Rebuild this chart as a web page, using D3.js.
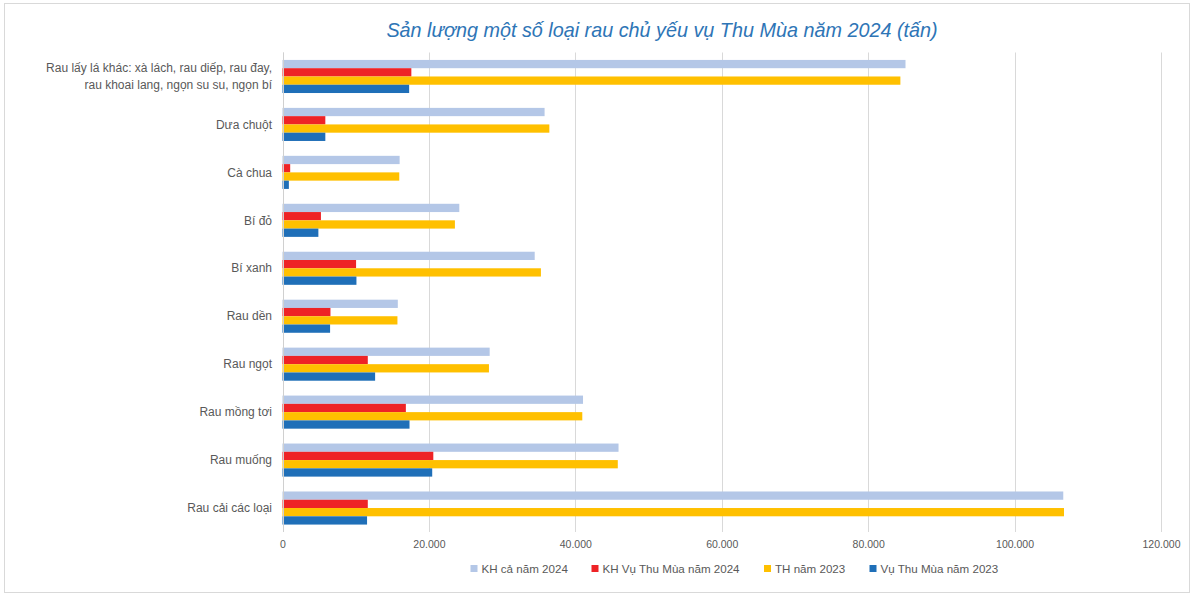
<!DOCTYPE html>
<html>
<head>
<meta charset="utf-8">
<script src="https://cdn.jsdelivr.net/npm/d3@7/dist/d3.min.js"></script>
<style>
  html, body { margin: 0; padding: 0; background: #fff; }
  svg { display: block; }
</style>
</head>
<body>
<svg id="chart" width="1194" height="595"></svg>
<script>
// Vegetable output by crop (tonnes), top row first
const categories = [
  ["Rau lấy lá khác: xà lách, rau diếp, rau đay,", "rau khoai lang, ngọn su su, ngọn bí"],
  ["Dưa chuột"],
  ["Cà chua"],
  ["Bí đỏ"],
  ["Bí xanh"],
  ["Rau dền"],
  ["Rau ngọt"],
  ["Rau mồng tơi"],
  ["Rau muống"],
  ["Rau cải các loại"]
];
const seriesNames = ["KH cả năm 2024", "KH Vụ Thu Mùa năm 2024", "TH năm 2023", "Vụ Thu Mùa năm 2023"];
const khCaNam2024   = [85100, 35800, 16000, 24150, 34450, 15750, 28300, 41050, 45900, 106650];
const khThuMua2024  = [17600,  5850,  1050,  5250, 10050,  6550, 11650, 16850, 20600,  11650];
const thNam2023     = [84400, 36450, 15950, 23550, 35300, 15700, 28200, 40950, 45800, 106750];
const thuMua2023    = [17300,  5850,   870,  4900, 10100,  6500, 12650, 17350, 20450,  11550];
const tickValues = [0, 20000, 40000, 60000, 80000, 100000, 120000];

const seriesValues = [khCaNam2024, khThuMua2024, thNam2023, thuMua2023];
const colors = ["#b4c7e7", "#ee2326", "#ffc000", "#1f6fb8"];

const svg = d3.select("#chart");
const W = 1194, H = 595;
const plot = { left: 282.5, right: 1161, top: 52.5, bottom: 532 };

// outer frame
svg.append("rect")
  .attr("x", 4.5).attr("y", 3.5)
  .attr("width", W - 9).attr("height", H - 6)
  .attr("fill", "#fff").attr("stroke", "#d9d9d9").attr("stroke-width", 1);

// title
svg.append("text")
  .attr("x", 662).attr("y", 36.5)
  .attr("text-anchor", "middle")
  .attr("font-family", "'Liberation Sans', Arial, sans-serif")
  .attr("font-style", "italic")
  .attr("font-size", 19.8)
  .attr("fill", "#2e75b6")
  .text("Sản lượng một số loại rau chủ yếu vụ Thu Mùa năm 2024 (tấn)");

const x = d3.scaleLinear().domain([0, 120000]).range([plot.left, plot.right]);
const y = d3.scaleBand()
  .domain(d3.range(categories.length))
  .range([plot.top, plot.bottom])
  .paddingInner(0.31).paddingOuter(0.155);
const ySub = d3.scaleBand().domain(d3.range(seriesNames.length)).range([0, y.bandwidth()]);

const locale = d3.formatLocale({ decimal: ",", thousands: ".", grouping: [3], currency: ["", ""] });
const fmt = locale.format(",d");

// vertical gridlines
svg.append("g").selectAll("line")
  .data(tickValues)
  .join("line")
  .attr("x1", d => Math.round(x(d)) + 0.5).attr("x2", d => Math.round(x(d)) + 0.5)
  .attr("y1", plot.top).attr("y2", plot.bottom)
  .attr("stroke", "#d9d9d9").attr("stroke-width", 1);

// x axis labels
const xAxis = d3.axisBottom(x).tickValues(tickValues).tickFormat(fmt).tickSize(0).tickPadding(0);
const gx = svg.append("g").attr("transform", `translate(0,${plot.bottom + 9})`).call(xAxis);
gx.select(".domain").remove();
gx.selectAll("text")
  .attr("font-family", "'Liberation Sans', Arial, sans-serif")
  .attr("font-size", 10.5)
  .attr("fill", "#595959");

// bars
const groups = svg.append("g").selectAll("g")
  .data(categories.map((c, i) => i))
  .join("g")
  .attr("transform", i => `translate(0,${y(i)})`);

groups.selectAll("rect")
  .data(i => seriesValues.map((vals, s) => ({ s, v: vals[i] })))
  .join("rect")
  .attr("x", x(0))
  .attr("y", d => ySub(d.s))
  .attr("width", d => x(d.v) - x(0))
  .attr("height", ySub.bandwidth())
  .attr("fill", d => colors[d.s]);

// category axis line
svg.append("line")
  .attr("x1", Math.round(x(0)) + 0.5).attr("x2", Math.round(x(0)) + 0.5)
  .attr("y1", plot.top).attr("y2", plot.bottom)
  .attr("stroke", "#d0d0d0");

// category labels
const labels = svg.append("g").selectAll("text")
  .data(categories)
  .join("text")
  .attr("text-anchor", "end")
  .attr("font-family", "'Liberation Sans', Arial, sans-serif")
  .attr("font-size", 12)
  .attr("fill", "#595959")
  .attr("transform", (d, i) => `translate(272,${y(i) + y.bandwidth() / 2})`);

labels.selectAll("tspan")
  .data(d => d.map((line, k) => ({ line, k, n: d.length })))
  .join("tspan")
  .attr("x", 0)
  .attr("y", d => (d.k - (d.n - 1) / 2) * 17)
  .attr("dy", "0.35em")
  .text(d => d.line);

// legend
const legendItems = [
  { name: seriesNames[0], x: 470.5 },
  { name: seriesNames[1], x: 591.5 },
  { name: seriesNames[2], x: 764 },
  { name: seriesNames[3], x: 869.5 }
];
const lg = svg.append("g").selectAll("g")
  .data(legendItems)
  .join("g")
  .attr("transform", d => `translate(${d.x},568.5)`);
lg.append("rect")
  .attr("x", 0).attr("y", -3.5).attr("width", 7).attr("height", 7)
  .attr("fill", (d, i) => colors[i]);
lg.append("text")
  .attr("x", 11).attr("y", 0).attr("dy", "0.35em")
  .attr("font-family", "'Liberation Sans', Arial, sans-serif")
  .attr("font-size", 11.6)
  .attr("fill", "#595959")
  .text(d => d.name);
</script>
</body>
</html>
